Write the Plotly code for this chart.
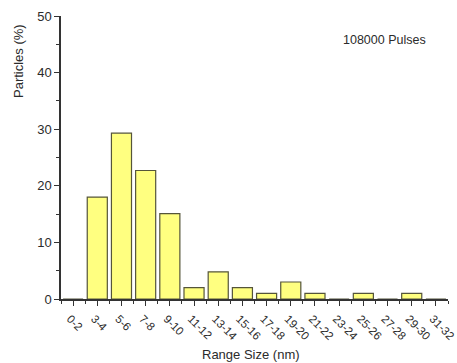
import plotly.graph_objects as go

categories = ["0-2", "3-4", "5-6", "7-8", "9-10", "11-12", "13-14", "15-16",
              "17-18", "19-20", "21-22", "23-24", "25-26", "27-28", "29-30", "31-32"]
particles = [0, 18, 29.3, 22.7, 15.1, 2, 4.8, 2, 1, 3, 1, 0, 1, 0, 1, 0]
y_ticks = [0, 10, 20, 30, 40, 50]

positions = list(range(len(categories)))
FONT = "Liberation Sans, Arial, sans-serif"
TXT = "#2b2b2b"

fig = go.Figure(go.Bar(
    x=positions, y=particles,
    marker=dict(color="#FFFF80", line=dict(color="#55553a", width=1.2)),
))

fig.update_layout(
    width=457, height=363,
    margin=dict(l=61, r=9, t=16, b=64),
    paper_bgcolor="white", plot_bgcolor="white",
    bargap=0.17, showlegend=False,
    font=dict(family=FONT, size=12, color=TXT),
    annotations=[
        dict(text="108000 Pulses", x=384, y=40, font=dict(size=12.5, color=TXT)),
        dict(text="Particles (%)", x=18, y=61, textangle=-90, font=dict(size=13, color=TXT)),
        dict(text="Range Size (nm)", x=251, y=354, font=dict(size=13, color=TXT)),
    ],
)
# convert pixel annotation positions to paper coords
pw = 457 - 61 - 9
ph = 363 - 16 - 64
for a in fig.layout.annotations:
    a.x = (a.x - 61) / pw
    a.y = (363 - 64 - a.y) / ph
    a.xref = "paper"
    a.yref = "paper"
    a.xanchor = "center"
    a.yanchor = "middle"
    a.showarrow = False

fig.update_xaxes(
    range=[-0.5, 15.5], tickmode="array", tickvals=positions, ticktext=categories,
    tickangle=45, ticks="outside", ticklen=5, tickcolor="#333", tickwidth=1,
    showline=True, linecolor="#333", linewidth=1.5, showgrid=False, zeroline=False,
    tickfont=dict(size=11.5, color=TXT), automargin=False, ticklabeloverflow="allow",
    ticklabelstandoff=2, ticklabelshift=-3,
    minor=dict(tick0=0.5, dtick=1, ticks="outside", ticklen=3, tickcolor="#333", showgrid=False),
)
fig.update_yaxes(
    range=[0, 50], tickmode="array", tickvals=y_ticks, ticks="outside", ticklen=5,
    tickcolor="#333", showline=True, linecolor="#333", linewidth=1.5,
    showgrid=False, zeroline=False, tickfont=dict(size=13, color=TXT), automargin=False,
    ticklabelstandoff=0,
    minor=dict(tick0=5, dtick=10, ticks="outside", ticklen=3, tickcolor="#333", showgrid=False),
)

fig.write_html("out.html", config={"displayModeBar": False},
               post_script="document.body.style.margin='0px';document.body.style.overflow='hidden';")
